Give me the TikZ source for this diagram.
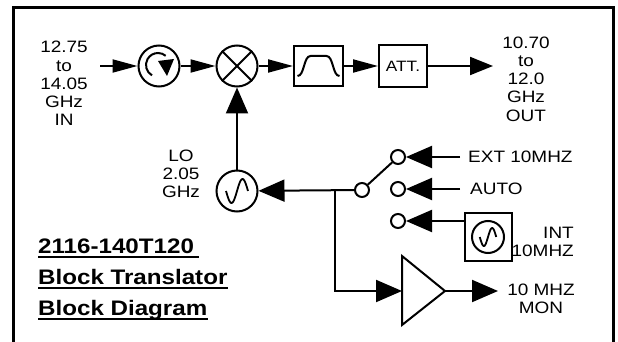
\documentclass[tikz,border=0pt]{standalone}
\usepackage{fontspec}
\setmainfont{Liberation Sans}[FakeStretch=1.15]
\usetikzlibrary{arrows.meta,calc}

\begin{document}
\begin{tikzpicture}[x=1pt,y=1pt]
\tikzset{
  wire/.style={line width=2pt},
  sarr/.style={wire,-{Triangle[length=25pt,width=13pt]}},
  marr/.style={wire,-{Triangle[length=23pt,width=18pt]}},
  barr/.style={wire,-{Triangle[length=26pt,width=22pt]}},
  rnd/.style={draw,circle,line width=2pt,minimum size=41pt,inner sep=0pt},
  cnt/.style={draw,circle,line width=2pt,minimum size=14pt,inner sep=0pt,fill=white},
  blk/.style={draw,rectangle,line width=2pt,inner sep=0pt},
  lbl/.style={inner sep=0pt,align=center,font=\fontsize{16.5}{18.2}\selectfont},
  ttl/.style={inner sep=0pt,anchor=base west,font=\fontsize{21}{25}\selectfont\bfseries},
  uln/.style={line width=1.6pt},
  sine/.pic={\draw[line width=1.8pt] plot[domain=-1:1,samples=40,smooth] ({11*\x},{12*sin(180*\x)});}
}
\useasboundingbox (0,0) rectangle (618,-342);
\draw[line width=3pt] (13,-342) -- (13,-8) -- (613,-8) -- (613,-342);

% RF path
\node[lbl] (rfin) at (64,-83.5) {12.75\\to\\14.05\\GHz\\IN};
\coordinate (inS) at (100,-66);
\node[rnd] (circ) at (159,-66) {};
\node[rnd] (mix) at (237,-66) {};
\node[blk,minimum width=49pt,minimum height=40pt] (bpf) at (318.5,-66) {};
\node[blk,minimum width=48pt,minimum height=42pt,font=\fontsize{15}{18}\selectfont] (att) at (403,-66) {ATT.};
\coordinate (outE) at (493,-66);
\node[lbl] (rfout) at (526,-79) {10.70\\to\\12.0\\GHz\\OUT};
\draw[sarr] (inS) -- (circ);
\draw[sarr] (circ) -- (mix);
\draw[sarr] (mix) -- (bpf);
\draw[sarr] (bpf) -- (att);
\draw[marr] (att) -- (outE);

% symbols
\begin{scope}[shift={(circ)}]
\draw[wire] ($(-1,1)+(240:12)$) arc[start angle=240,end angle=50,radius=12];
\fill (-1,5) -- (15,7) -- (8,-10) -- cycle;
\end{scope}
\draw[wire] (mix.north west) -- (mix.south east);
\draw[wire] (mix.north east) -- (mix.south west);
\begin{scope}[shift={(bpf)}]
\draw[wire] (-21,-10) .. controls (-14,-10) and (-15,10) .. (-8,10) -- (8,10) .. controls (15,10) and (14,-10) .. (21,-10);
\end{scope}

% local oscillator
\node[rnd] (lo) at (237,-191) {};
\pic at (lo) {sine};
\node[lbl] (lolbl) at (181,-174) {LO\\2.05\\GHz};
\draw[barr] (lo) -- (mix);

% reference switch
\node[cnt] (com) at (362,-190) {};
\node[cnt] (ext) at (398,-157) {};
\node[cnt] (auto) at (398,-189) {};
\node[cnt] (intc) at (398,-221) {};
\coordinate (jn) at (335,-190);
\draw[barr] (com) -- (lo);
\draw[wire] (com) -- (ext);
\node[lbl,anchor=west] (extlbl) at (468,-157) {EXT 10MHZ};
\node[lbl,anchor=west] (autolbl) at (470,-189) {AUTO};
\draw[barr] ([xshift=-8pt]extlbl.west) -- (ext);
\draw[barr] ([xshift=-10pt]autolbl.west) -- (auto);
\node[blk,minimum width=47pt,minimum height=48pt] (intosc) at (488,-237) {};
\draw[wire] (intosc) circle (16);
\pic[scale=0.75] at (intosc) {sine};
\node[lbl,anchor=east,align=right] (intlbl) at (574,-242) {INT\\10MHZ};
\draw[barr] (intosc.west |- intc) -- (intc);

% monitor amplifier
\coordinate (ampin) at (402,-291);
\coordinate (ampout) at (445,-291);
\coordinate (monE) at (498,-291);
\draw[wire] (402,-256) -- (402,-325) -- (ampout) -- cycle;
\draw[barr] (jn) |- (ampin);
\draw[barr] (ampout) -- (monE);
\node[lbl] (monlbl) at (541,-299) {10 MHZ\\MON};

% title
\node[ttl] (t1) at (38,-253) {2116-140T120};
\node[ttl] (t2) at (38,-284) {Block Translator};
\node[ttl] (t3) at (38,-315) {Block Diagram};
\draw[uln] ([yshift=-4pt]t1.base west) -- ([xshift=5pt,yshift=-4pt]t1.base east);
\draw[uln] ([yshift=-4pt]t2.base west) -- ([yshift=-4pt]t2.base east);
\draw[uln] ([yshift=-4pt]t3.base west) -- ([yshift=-4pt]t3.base east);
\end{tikzpicture}
\end{document}
